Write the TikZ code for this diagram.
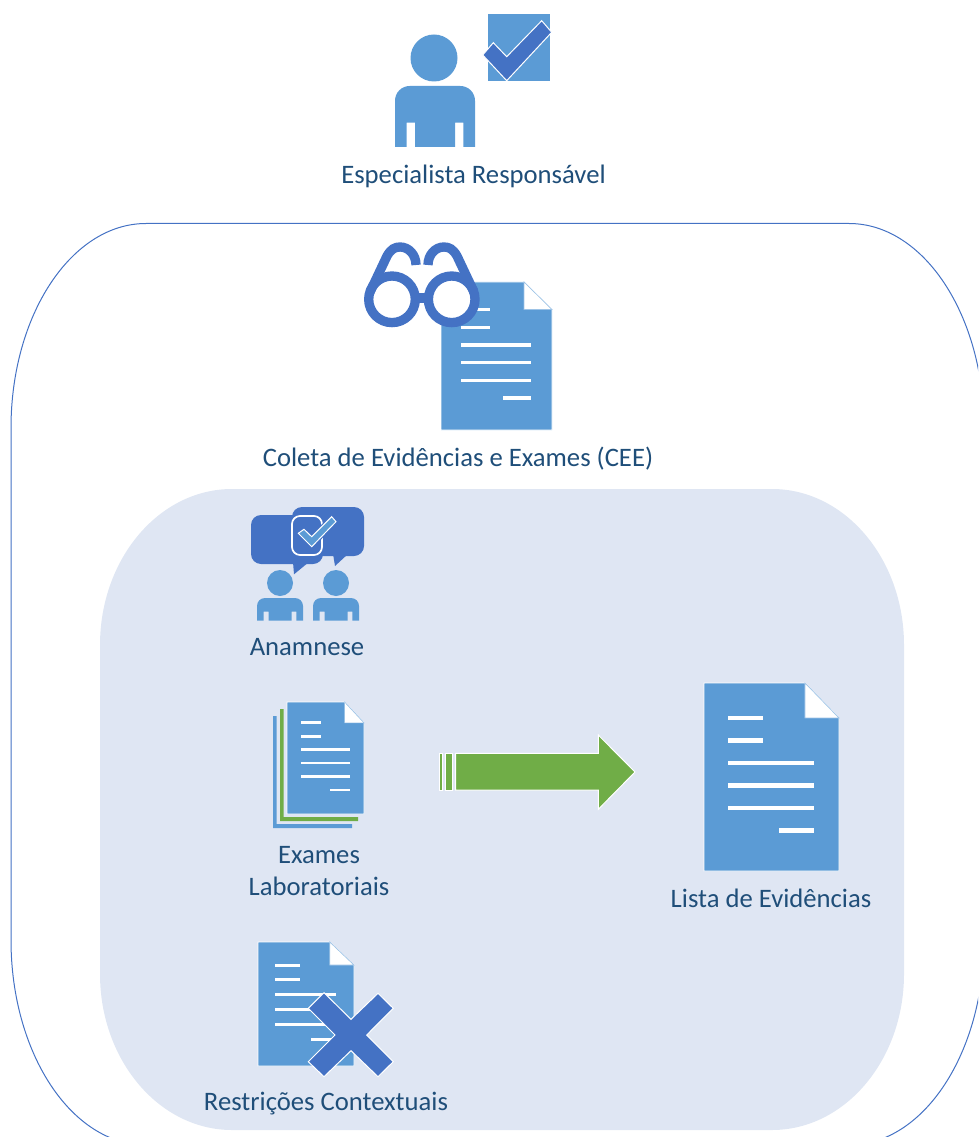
\documentclass[tikz,border=0pt]{standalone}
\usepackage{fontspec}
\setmainfont{Carlito}
\definecolor{lblue}{HTML}{5B9BD5}
\definecolor{dblue}{HTML}{4472C4}
\definecolor{lgreen}{HTML}{70AD47}
\definecolor{panel}{HTML}{DFE6F3}
\definecolor{ink}{HTML}{1F4E79}
\tikzset{
  label text/.style={text=ink,font=\fontsize{20}{24}\selectfont,align=center,inner sep=0pt},
  outlined/.style={draw=white,line width=0.75pt},
  docline/.style={fill=white},
}
% document icon: left, top, width, height
\newcommand{\docicon}[4]{%
  \begin{scope}[shift={(#1,#2)},xscale=#3,yscale=#4]
    \fill[lblue,draw=white,line width=0.7pt] (0,0) -- (.748,0) -- (1,.186) -- (1,1) -- (0,1) -- cycle;
    \fill[white,draw=lblue!60,line width=0.5pt] (.748,0) -- (1,.186) -- (.748,.186) -- cycle;
    \foreach \yy in {.186,.306}{\fill[docline] (.178,\yy-.012) rectangle (.437,\yy+.012);}
    \foreach \yy in {.426,.545,.665}{\fill[docline] (.178,\yy-.012) rectangle (.815,\yy+.012);}
    \fill[docline] (.556,.785-.012) rectangle (.815,.785+.012);
  \end{scope}}
% person body: left, top, width, height, corner radius
\newcommand{\personbody}[5]{%
  \begin{scope}[shift={(#1,#2)},xscale=#3,yscale=#4]
    \fill[lblue] (0,1) [rounded corners=#5pt] -- (0,0) -- (1,0) [sharp corners] -- (1,1)
      -- (.854,1) -- (.854,.6) -- (.75,.6) -- (.75,1) -- (.25,1) -- (.25,.6) -- (.146,.6) -- (.146,1) -- cycle;
  \end{scope}}
\begin{document}
\begin{tikzpicture}[x=0.75pt,y=-0.75pt]
\useasboundingbox (0,0) rectangle (978,1137);
\begin{scope}
\clip (0,0) rectangle (978,1137);
% outer frame
\draw[dblue,line width=0.75pt] (146,223.5) -- (849,223.5)
  .. controls (923.5,223.5) and (984,315) .. (984,428) -- (984,940)
  .. controls (984,1053) and (923.5,1145) .. (849,1145) -- (146,1145)
  .. controls (71.5,1145) and (11,1053) .. (11,940) -- (11,428)
  .. controls (11,315) and (71.5,223.5) .. (146,223.5) -- cycle;
% inner panel
\fill[panel] (232,489) -- (772,489)
  .. controls (845,489) and (904,559) .. (904,645) -- (904,974)
  .. controls (904,1060) and (845,1130) .. (772,1130) -- (232,1130)
  .. controls (159,1130) and (100,1060) .. (100,974) -- (100,645)
  .. controls (100,559) and (159,489) .. (232,489) -- cycle;
\end{scope}
% specialist
\fill[lblue] (434,58) circle[radius=23.5];
\personbody{395}{86}{80}{61}{11}
\fill[lblue] (488,14) rectangle (550,81);
\fill[dblue,outlined] (482.7,55) -- (493.3,42.7) -- (506.7,56.7) -- (541.7,20.7) -- (551.7,32.3) -- (506.7,80.7) -- cycle;
\node[label text] (especialista) at (473.5,176) {Especialista Responsável};
% document and glasses
\docicon{441}{282}{111}{148}
\begin{scope}[dblue,line width=7pt]
  \draw[fill=white] (392,299.3) circle[radius=23.3];
  \draw[fill=white] (451.7,299.3) circle[radius=23.3];
  \draw (411,298) -- (433,298);
  \draw (370,292) -- (387,256) .. controls (391,249) and (395,247) .. (400,247) .. controls (409,247) and (416,255) .. (416,265);
  \draw (474,292) -- (457,256) .. controls (453,249) and (449,247) .. (444,247) .. controls (435,247) and (428,255) .. (428,265);
\end{scope}
\node[label text] (coleta) at (458,459) {Coleta de Evidências e Exames (CEE)};
% anamnese
\fill[dblue,rounded corners=7.5pt] (251,515) rectangle (323,564);
\fill[dblue] (293,562) -- (294,574.3) -- (309,562) -- cycle;
\fill[dblue,rounded corners=7.5pt] (292,507) rectangle (364,556);
\fill[dblue] (333,554) -- (335,566) -- (348,554) -- cycle;
\draw[white,line width=1.3pt,rounded corners=6pt] (292,516) rectangle (322,555);
\draw[dblue,line width=2.5pt] (298.3,533.3) -- (304,529.3) -- (311.7,536.7) -- (331.7,516.7) -- (336,521.7) -- (311.7,546.7) -- cycle;
\fill[lblue,outlined] (298.3,533.3) -- (304,529.3) -- (311.7,536.7) -- (331.7,516.7) -- (336,521.7) -- (311.7,546.7) -- cycle;
\fill[lblue] (280,583) circle[radius=13];
\personbody{257}{598}{46}{22.7}{6}
\fill[lblue] (336,583) circle[radius=13];
\personbody{313}{598}{46}{22.7}{6}
\node[label text] (anamnese) at (307,647) {Anamnese};
% exames
\fill[lblue] (273,716) -- (276.7,716) -- (276.7,824) -- (352,824) -- (352,828) -- (273,828) -- cycle;
\fill[lgreen] (280,709) -- (283.5,709) -- (283.5,817) -- (358,817) -- (358,821) -- (280,821) -- cycle;
\docicon{287}{702}{77}{112}
\node[label text] (exames) at (319,871) {Exames\\Laboratoriais};
% arrow
\fill[lgreen,outlined] (439.7,753.3) rectangle (442.3,790);
\fill[lgreen,outlined] (445.7,753.3) rectangle (452,790);
\fill[lgreen,outlined] (455.7,753.3) -- (598.3,753.3) -- (598.3,735) -- (635,772) -- (598.3,809.3) -- (598.3,790) -- (455.7,790) -- cycle;
% evidence list
\docicon{704}{683}{135}{188}
\node[label text] (lista) at (771,898) {Lista de Evidências};
% restrictions
\docicon{258}{942}{96}{124}
\fill[dblue,outlined] (324,992.7) -- (351,1019.3) -- (378,993.3) -- (393.3,1008.3) -- (366.7,1035) -- (393.3,1061.7) -- (378,1076.7) -- (351,1050.7) -- (324,1076.7) -- (308.3,1061.7) -- (335,1035) -- (308.3,1008.3) -- cycle;
\node[label text] (restricoes) at (326,1104) {Restrições Contextuais};
\end{tikzpicture}
\end{document}
